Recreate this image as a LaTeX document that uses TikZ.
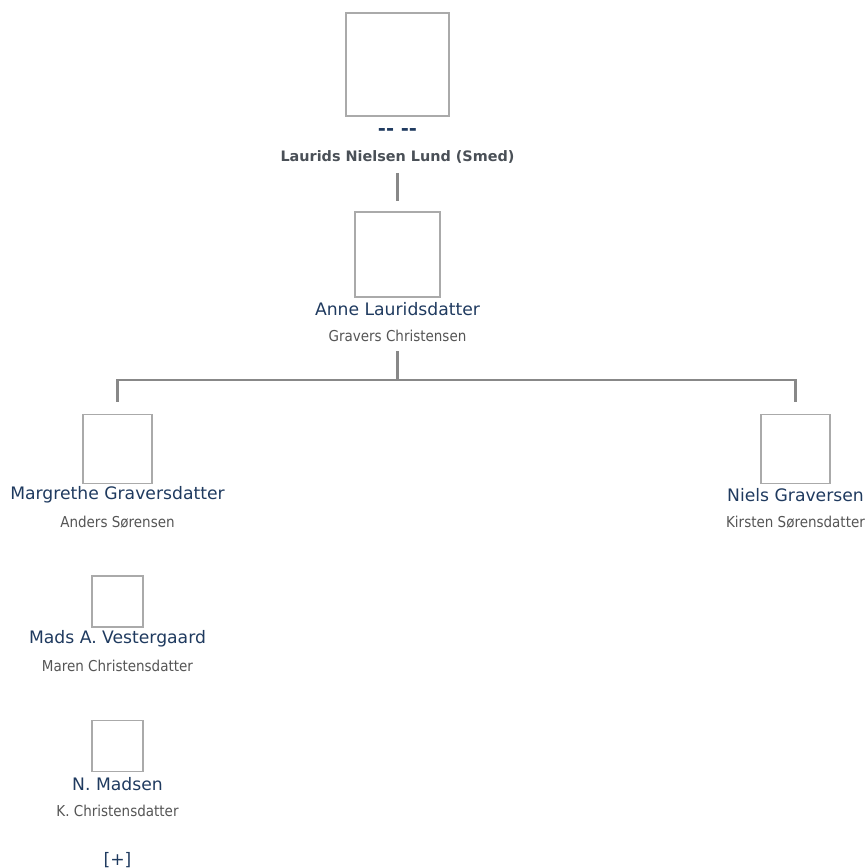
\documentclass[tikz,border=0pt]{standalone}
\usepackage{fontspec}
\setmainfont{DejaVu Sans}
\newfontfamily\condfont{DejaVu Sans Condensed}
\definecolor{namecol}{HTML}{1F3A5F}
\definecolor{subcol}{HTML}{555555}
\definecolor{framecol}{HTML}{AAAAAA}
\definecolor{linecol}{HTML}{888888}
\begin{document}
\begin{tikzpicture}[x=1pt,y=-1pt]
      \useasboundingbox (0,0) rectangle (867,868);
      \tikzstyle{photo} = [draw=framecol, line width=1.8pt, fill=white, inner sep=0pt]
      \tikzstyle{personname} = [text=namecol, font=\fontsize{17.2}{20}\selectfont, inner sep=2pt]
      \tikzstyle{spousename} = [text=subcol, font=\condfont\fontsize{15}{18}\selectfont, inner sep=2pt]
      \tikzstyle{famline} = [draw=linecol, line width=2.6pt]

      % photo frames
      \node[photo, minimum size=103pt] (pLaurids) at (397.5,64.5) {};
      \node[photo, minimum size=85pt] (pAnne) at (397.5,254.5) {};
      \node[photo, minimum size=69pt] (pMargrethe) at (117.5,449) {};
      \node[photo, minimum size=69pt] (pNiels) at (795.5,449) {};
      \node[photo, minimum size=51pt] (pMads) at (117.5,601.5) {};
      \node[photo, minimum size=51pt] (pNMadsen) at (117.5,746) {};

      % names
      \node[personname, font=\bfseries\fontsize{19.5}{22}\selectfont] (nDash) at (397.5,132) {-{}- -{}-};
      \node[text=subcol!80!namecol, font=\bfseries\fontsize{14.4}{17}\selectfont] (nLaurids) at (397.5,157) {Laurids Nielsen Lund (Smed)};
      \node[personname] (nAnne) at (397.5,309) {Anne Lauridsdatter};
      \node[spousename] (sAnne) at (397.5,336) {Gravers Christensen};
      \node[personname] (nMargrethe) at (117.5,495) {Margrethe Graversdatter};
      \node[spousename] (sMargrethe) at (117.5,522) {Anders Sørensen};
      \node[personname] (nNiels) at (795.5,495) {Niels Graversen};
      \node[spousename] (sNiels) at (795.5,522) {Kirsten Sørensdatter};
      \node[personname] (nMads) at (117.5,639) {Mads A. Vestergaard};
      \node[spousename] (sMads) at (117.5,666) {Maren Christensdatter};
      \node[personname] (nNMadsen) at (117.5,784) {N. Madsen};
      \node[spousename] (sNMadsen) at (117.5,811) {K. Christensdatter};
      \node[personname] (more) at (117.5,860) {[+]};

      % lines
      \coordinate (fork) at (397.5,380);
      \path[famline, shorten <=6pt, shorten >=10pt] (nLaurids.south) -- (pAnne.north);
      \path[famline, shorten <=7pt] (sAnne.south) -- (fork);
      \path[famline, shorten >=12pt] (fork) -| (pMargrethe.north);
      \path[famline, shorten >=12pt] (fork) -| (pNiels.north);
    \end{tikzpicture}
\end{document}
